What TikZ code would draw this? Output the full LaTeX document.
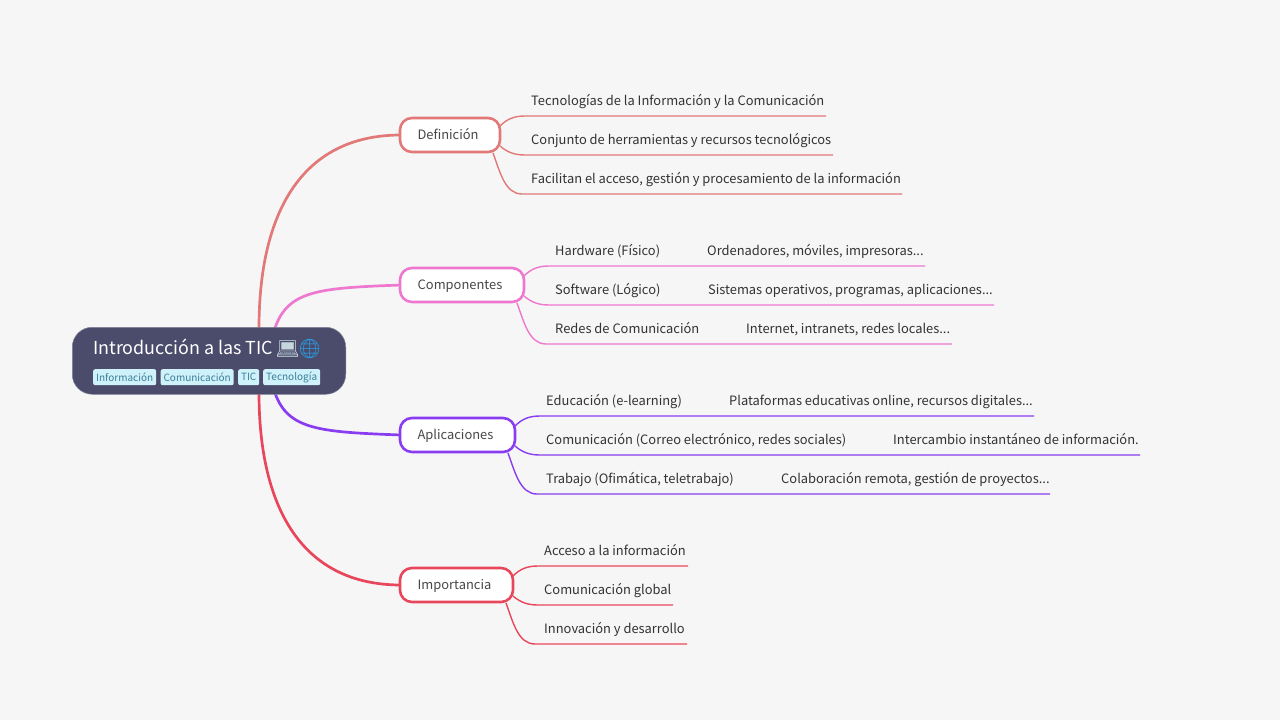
\documentclass[tikz,border=0pt]{standalone}
\usepackage{fontspec}
\setmainfont{Noto Sans CJK SC}
\newfontfamily\emojifont{Noto Emoji}
\usetikzlibrary{calc}
\definecolor{bgc}{HTML}{F6F6F6}
\definecolor{rootc}{HTML}{4B4C6B}
\definecolor{tagbg}{HTML}{CFF1F9}
\definecolor{tagfg}{HTML}{3C7F9A}
\definecolor{txt}{HTML}{333333}
\definecolor{btxt}{HTML}{484848}
\definecolor{cA}{HTML}{E27878}
\definecolor{cB}{HTML}{EE78D0}
\definecolor{cC}{HTML}{8A3DF0}
\definecolor{cD}{HTML}{E8475B}
\definecolor{lapc}{HTML}{C4D6DE}
\definecolor{globc}{HTML}{2A9BE0}
\tikzset{
  x=1pt,y=-1pt,
  branch/.style={draw=#1,line width=2.6pt,rounded corners=12pt,fill=white,minimum height=34pt,inner sep=0pt,outer sep=0pt,text=btxt,text height=10.5pt,text depth=2.5pt,font=\fontsize{12.9}{15}\selectfont,anchor=north west},
  link/.style={draw=#1,line width=2.7pt,line cap=round},
  twig/.style={draw=#1,line width=1.4pt},
  leaf/.style={anchor=base west,inner sep=0pt,text=txt,font=\fontsize{12.9}{15}\selectfont},
  tagbox/.style={fill=tagbg,text=tagfg,rounded corners=2pt,inner sep=0pt,minimum height=16pt,anchor=north west,font=\fontsize{10}{12}\selectfont},
}
\begin{document}
\begin{tikzpicture}
\useasboundingbox[fill=bgc] (0,0) rectangle (1280,720);
% root anchors
\coordinate (ra) at (259,328);
\coordinate (rb) at (275,328);
\coordinate (rc) at (275,393);
\coordinate (rd) at (259,393);
% branch nodes
\coordinate (na) at (401,135);
\coordinate (nb) at (401,285);
\coordinate (nc) at (401,435);
\coordinate (nd) at (401,585);
\draw[link=cA] (ra) .. controls (259,215) and (300,135) .. (na);
\draw[link=cB] (rb) .. controls (288,290) and (320,288) .. (nb);
\draw[link=cC] (rc) .. controls (288,430) and (320,432) .. (nc);
\draw[link=cD] (rd) .. controls (259,505) and (300,585) .. (nd);
\node[fill=rootc,draw=rootc!70!white,line width=.5pt,rounded corners=20pt,minimum width=273.5pt,minimum height=67pt,inner sep=0pt,anchor=north west] (root) at (72,327) {};
\node[anchor=base west,inner sep=0pt,text=white,font=\fontsize{17.9}{22}\selectfont] (title) at (93,354) {Introducción a las TIC};
\node[anchor=base west,inner sep=0pt,text=lapc,font=\emojifont\fontsize{19}{22}\selectfont] (lap) at (275.5,355) {💻};
\node[anchor=base west,inner sep=0pt,text=globc,font=\emojifont\fontsize{19}{22}\selectfont] (glob) at (297.5,355) {🌐};
\node[tagbox,minimum width=63pt] (t1) at (93,369) {Información};
\node[tagbox,minimum width=73pt] (t2) at (160.5,369) {Comunicación};
\node[tagbox,minimum width=21pt] (t3) at (238,369) {TIC};
\node[tagbox,minimum width=57pt] (t4) at (263,369) {Tecnología};
%
\node[branch=cA,minimum width=100pt] (bA) at (400,118) {Definición\kern4pt};
\node[branch=cB,minimum width=124pt] (bB) at (400,268) {Componentes\kern4pt};
\node[branch=cC,minimum width=115pt] (bC) at (400,418) {Aplicaciones\kern4pt};
\node[branch=cD,minimum width=113pt] (bD) at (400,568) {Importancia\kern4pt};
%
% Definicion
\node[leaf] (a1) at (531,105) {Tecnologías de la Información y la Comunicación};
\node[leaf] (a2) at (531,144) {Conjunto de herramientas y recursos tecnológicos};
\node[leaf] (a3) at (531,183.3) {Facilitan el acceso, gestión y procesamiento de la información};
\coordinate (ea1) at (826,116); \coordinate (ea2) at (833,155); \coordinate (ea3) at (902,194);
\draw[twig=cA] (500,126) .. controls (507,119) and (514,116) .. (525,116) -- (ea1);
\draw[twig=cA] (500,146) .. controls (507,152) and (514,155) .. (525,155) -- (ea2);
\draw[twig=cA] (493,153) .. controls (500,172) and (505,194) .. (522,194) -- (ea3);
% Componentes
\node[leaf] (b1) at (555,255) {Hardware (Físico)};
\node[leaf] (b1x) at (707,255) {Ordenadores, móviles, impresoras...};
\node[leaf] (b2) at (555,294) {Software (Lógico)};
\node[leaf] (b2x) at (708,294) {Sistemas operativos, programas, aplicaciones...};
\node[leaf] (b3) at (555,333.3) {Redes de Comunicación};
\node[leaf] (b3x) at (746,333.3) {Internet, intranets, redes locales...};
\coordinate (eb1) at (925,266); \coordinate (eb2) at (994,305); \coordinate (eb3) at (952,344);
\draw[twig=cB] (524,276) .. controls (531,269) and (538,266) .. (549,266) -- (eb1);
\draw[twig=cB] (524,296) .. controls (531,302) and (538,305) .. (549,305) -- (eb2);
\draw[twig=cB] (517,303) .. controls (524,322) and (529,344) .. (546,344) -- (eb3);
% Aplicaciones
\node[leaf] (c1) at (546,405) {Educación (e-learning)};
\node[leaf] (c1x) at (729,405) {Plataformas educativas online, recursos digitales...};
\node[leaf] (c2) at (546,444) {Comunicación (Correo electrónico, redes sociales)};
\node[leaf] (c2x) at (893,444) {Intercambio instantáneo de información.};
\node[leaf] (c3) at (546,483.3) {Trabajo (Ofimática, teletrabajo)};
\node[leaf] (c3x) at (781,483.3) {Colaboración remota, gestión de proyectos...};
\coordinate (ec1) at (1034,416); \coordinate (ec2) at (1140,455); \coordinate (ec3) at (1050,494);
\draw[twig=cC] (515,426) .. controls (522,419) and (529,416) .. (540,416) -- (ec1);
\draw[twig=cC] (515,446) .. controls (522,452) and (529,455) .. (540,455) -- (ec2);
\draw[twig=cC] (508,453) .. controls (515,472) and (520,494) .. (537,494) -- (ec3);
% Importancia
\node[leaf] (d1) at (544,555) {Acceso a la información};
\node[leaf] (d2) at (544,594) {Comunicación global};
\node[leaf] (d3) at (544,633.3) {Innovación y desarrollo};
\coordinate (ed1) at (688,566); \coordinate (ed2) at (673,605); \coordinate (ed3) at (687,644);
\draw[twig=cD] (513,576) .. controls (520,569) and (527,566) .. (538,566) -- (ed1);
\draw[twig=cD] (513,596) .. controls (520,602) and (527,605) .. (538,605) -- (ed2);
\draw[twig=cD] (506,603) .. controls (513,622) and (518,644) .. (535,644) -- (ed3);
\end{tikzpicture}
\end{document}
